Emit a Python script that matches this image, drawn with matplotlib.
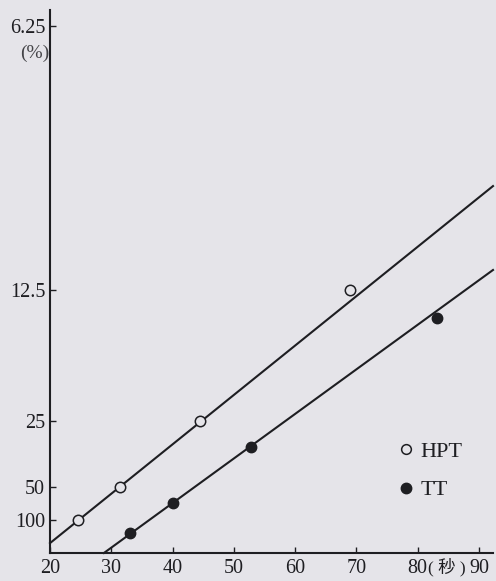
import numpy as np
import matplotlib.pyplot as plt
from matplotlib.lines import Line2D

# ------------------------------------------------------------
# Data
# y axis is linear in 1/concentration, labelled in %
# ------------------------------------------------------------

hpt_time = [24.5, 31.5, 44.5, 69.0]
hpt_pct = [100, 50, 25, 12.5]

tt_time = [33.0, 40.1, 52.8, 83.1]
tt_pct = [167, 66, 31, 14]

# fitted lines, end points in 1/% units
hpt_line_x = [20.0, 92.3]
hpt_line_inv = [0.0030, 0.1115]
tt_line_x = [28.8, 92.3]
tt_line_inv = [0.0, 0.0860]

ytick_pct = [6.25, 12.5, 25, 50, 100]
ytick_labels = ["6.25", "12.5", "25", "50", "100"]
xticks = [20, 30, 40, 50, 60, 70, 80, 90]

# ------------------------------------------------------------
# Style
# ------------------------------------------------------------

bg = "#e5e4e9"
ink = "#1e1e22"
serif = ["Liberation Serif", "DejaVu Serif"]

plt.rcParams["font.family"] = serif

fig = plt.figure(figsize=(4.96, 5.81), dpi=100, facecolor=bg)
ax = fig.add_axes([50 / 496, 28 / 581, 443 / 496, 543 / 581])
ax.set_facecolor(bg)

inv = lambda v: 1.0 / np.asarray(v, dtype=float)

# lines
ax.plot(hpt_line_x, hpt_line_inv, color=ink, linewidth=1.5, clip_on=False)
ax.plot(tt_line_x, tt_line_inv, color=ink, linewidth=1.5, clip_on=False)

# points
ax.plot(hpt_time, inv(hpt_pct), linestyle="none", marker="o",
        markersize=7.5, markerfacecolor=bg, markeredgecolor=ink,
        markeredgewidth=1.1, zorder=3, clip_on=False)
ax.plot(tt_time, inv(tt_pct), linestyle="none", marker="o",
        markersize=7.5, markerfacecolor=ink, markeredgecolor=ink,
        zorder=3, clip_on=False)

# axes
ax.set_xlim(20, 92.3)
ax.set_ylim(0, 0.165)

for s in ["top", "right"]:
    ax.spines[s].set_visible(False)
for s in ["left", "bottom"]:
    ax.spines[s].set_linewidth(1.5)
    ax.spines[s].set_color(ink)

ax.set_xticks(xticks)
ax.set_xticklabels([str(t) for t in xticks])
ax.set_yticks(inv(ytick_pct))
ax.set_yticklabels(ytick_labels)

ax.tick_params(axis="both", direction="in", length=4, width=1.0,
               colors=ink, labelsize=14.5)
ax.tick_params(axis="x", pad=4)
ax.tick_params(axis="y", pad=3.5)

# unit labels
fig.text(49 / 496, 1 - 53 / 581, "(%)", ha="right", va="center",
         fontsize=14, color="#444448", family=serif)
ax.annotate("( 秒 )", xy=(84.7, 0), xycoords=("data", "axes fraction"),
            xytext=(0, -10), textcoords="offset points",
            ha="center", va="center", fontsize=12.5, color=ink,
            family=["Liberation Serif", "Noto Sans CJK JP"])

# legend
handles = [
    Line2D([], [], linestyle="none", marker="o", markersize=7,
           markerfacecolor=bg, markeredgecolor=ink, markeredgewidth=1.1),
    Line2D([], [], linestyle="none", marker="o", markersize=7.5,
           markerfacecolor=ink, markeredgecolor=ink),
]
ax.legend(handles, ["HPT", "TT"], loc="upper left",
          bbox_to_anchor=(349 / 443, (553 - 441) / 543),
          frameon=False, fontsize=16, handlelength=0.6,
          handletextpad=0.35, labelspacing=0.82, borderaxespad=0,
          borderpad=0, labelcolor=ink)

fig.savefig("out.png", dpi=100, facecolor=bg)
